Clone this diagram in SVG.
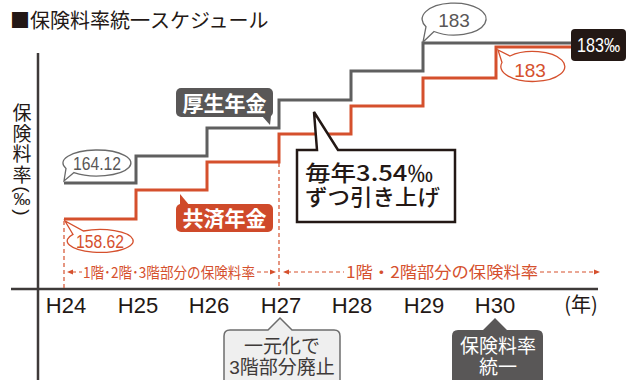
<svg xmlns="http://www.w3.org/2000/svg" width="636" height="380" viewBox="0 0 636 380">
<defs>
<style>
.jp{font-family:"Liberation Sans","Noto Sans CJK JP",sans-serif}
.cjk{font-family:"Noto Sans CJK JP",sans-serif}
.lat{font-family:"Liberation Sans",Arial,sans-serif}
.axis{stroke:#3e3a39;stroke-width:2.5;fill:none}
.gline{stroke:#5f5f5f;stroke-width:3;fill:none}
.rline{stroke:#d5502d;stroke-width:3;fill:none}
.dash{stroke:#d5502d;stroke-width:1.2;stroke-dasharray:4 3;fill:none}
.ah{fill:#d5502d}
.gb{fill:#fff;stroke:#6a6a6a;stroke-width:1.3}
.rb{fill:#fff;stroke:#d5502d;stroke-width:1.3}
.gt{fill:#595757}
.rt{fill:#d5502d}
.xl{font-size:22px;fill:#231815}
.dl{font-size:15px;fill:#d5502d}
</style>
</defs>

<g id="title">
<text class="cjk" x="10" y="28" font-size="20" fill="#231815">■保険料率統一スケジュール</text>
</g>

<g id="axes">
<line class="axis" x1="38" y1="53" x2="38" y2="382"/>
<line class="axis" x1="11" y1="289" x2="598" y2="289"/>
</g>

<g id="y-label" fill="#231815">
<text class="cjk" font-size="19" text-anchor="middle"><tspan x="22" y="120">保</tspan><tspan x="22" y="140.5">険</tspan><tspan x="22" y="161">料</tspan><tspan x="22" y="181.5">率</tspan></text>
<text class="lat" font-size="19" text-anchor="middle" dominant-baseline="central" transform="translate(22,189.5) rotate(90)">(</text>
<text class="lat" x="22" y="205" font-size="17" text-anchor="middle">‰</text>
<text class="lat" font-size="19" text-anchor="middle" dominant-baseline="central" transform="translate(22,212.5) rotate(90)">)</text>
</g>

<g id="x-labels" class="lat xl" text-anchor="middle">
<text x="66" y="313">H24</text>
<text x="138" y="313">H25</text>
<text x="209" y="313">H26</text>
<text x="281" y="313">H27</text>
<text x="352" y="313">H28</text>
<text x="424" y="313">H29</text>
<text x="495" y="313">H30</text>
<text class="cjk" x="581" y="312" font-size="20">(年)</text>
</g>

<g id="connectors">
<line class="dash" x1="64" y1="221" x2="64" y2="288"/>
<line class="dash" x1="279" y1="163" x2="279" y2="288"/>
<line class="dash" x1="72" y1="272" x2="82" y2="272"/>
<line class="dash" x1="257" y1="272" x2="272" y2="272"/>
<line class="dash" x1="287" y1="272" x2="344" y2="272"/>
<line class="dash" x1="540" y1="272" x2="596" y2="272"/>
<path class="ah" d="M67,272 L73,269.5 L73,274.5 Z"/>
<path class="ah" d="M276,272 L270,269.5 L270,274.5 Z"/>
<path class="ah" d="M283,272 L289,269.5 L289,274.5 Z"/>
<path class="ah" d="M600,272 L594,269.5 L594,274.5 Z"/>
<path class="gline" d="M64,183 H136 V156 H207 V128 H279 V100 H351 V71 H423 V43 H571"/>
<path class="rline" d="M64,219 H136 V190 H207 V162 H279 V134 H351 V106 H423 V78 H496 V47 H571"/>
</g>

<g id="range-labels" class="cjk dl">
<text x="83" y="278" textLength="172" lengthAdjust="spacingAndGlyphs">1階･2階･3階部分の保険料率</text>
<text x="346" y="278" font-size="16" textLength="192" lengthAdjust="spacingAndGlyphs">1階・2階部分の保険料率</text>
</g>

<g id="bubble-164">
<path class="gb" d="M74,172.6 A34,13 0 1 0 66,168.4 L64,181 Z"/>
<text class="lat gt" x="97" y="170" font-size="19" text-anchor="middle" textLength="48" lengthAdjust="spacingAndGlyphs">164.12</text>
</g>

<g id="bubble-158">
<path class="rb" d="M73,234.4 A33,11.5 0 1 0 83.5,231 L65,221 Z"/>
<text class="lat rt" x="100" y="248" font-size="18" text-anchor="middle" textLength="48" lengthAdjust="spacingAndGlyphs">158.62</text>
</g>

<g id="bubble-183-gray">
<path class="gb" d="M434,31.5 A32,16 0 1 0 426,26.7 L423,42 Z"/>
<text class="lat gt" x="454" y="27" font-size="19" text-anchor="middle">183</text>
</g>

<g id="bubble-183-red">
<path class="rb" d="M502,62.5 A32,15 0 1 0 510,56 L498,50 Z"/>
<text class="lat rt" x="530" y="77" font-size="19" text-anchor="middle">183</text>
</g>

<g id="final-rate">
<rect x="571" y="29" width="55" height="32" rx="4" fill="#231815"/>
<text class="lat" x="598.5" y="52" font-size="21" fill="#fff" text-anchor="middle" textLength="43" lengthAdjust="spacingAndGlyphs">183‰</text>
</g>

<g id="kosei">
<rect x="176" y="88" width="97" height="29" rx="5" fill="#595757"/>
<path d="M262,116 L271,116 L270,125 Z" fill="#595757"/>
<text class="cjk" x="224.5" y="110.5" font-size="21" font-weight="bold" fill="#fff" text-anchor="middle">厚生年金</text>
</g>

<g id="kyosai">
<rect x="176" y="204" width="97" height="28" rx="5" fill="#cf4a2a"/>
<path d="M180,194 L180,206 L190,206 Z" fill="#cf4a2a"/>
<text class="cjk" x="224.5" y="226" font-size="21" font-weight="bold" fill="#fff" text-anchor="middle">共済年金</text>
</g>

<g id="callout">
<path d="M297,150 H317 L314,112 L338,150 H455 V222 H297 Z" fill="#fff" stroke="#231815" stroke-width="2.5" stroke-linejoin="miter"/>
<text class="cjk" font-size="22" font-weight="500" fill="#231815"><tspan x="305" y="180.5" textLength="128" lengthAdjust="spacingAndGlyphs">毎年3.54‰</tspan><tspan x="305" y="204.5" textLength="135" lengthAdjust="spacingAndGlyphs">ずつ引き上げ</tspan></text>
</g>

<g id="note-h27">
<path d="M230,330 H268 L280,318 L292,330 H334 Q340,330 340,336 V386 H224 V336 Q224,330 230,330 Z" fill="#efefef" stroke="#6d6d6d" stroke-width="1.5"/>
<text class="jp" x="282" y="353" font-size="19" fill="#3e3a39" text-anchor="middle">一元化で</text>
<text class="jp" x="282" y="374" font-size="19" fill="#3e3a39" text-anchor="middle">3階部分廃止</text>
</g>

<g id="note-h30">
<path d="M458,330 H483 L495,318 L507,330 H537 Q543,330 543,336 V386 H452 V336 Q452,330 458,330 Z" fill="#595757"/>
<text class="cjk" x="498" y="353" font-size="19" fill="#fff" text-anchor="middle">保険料率</text>
<text class="cjk" x="498" y="374" font-size="19" fill="#fff" text-anchor="middle">統一</text>
</g>
</svg>
